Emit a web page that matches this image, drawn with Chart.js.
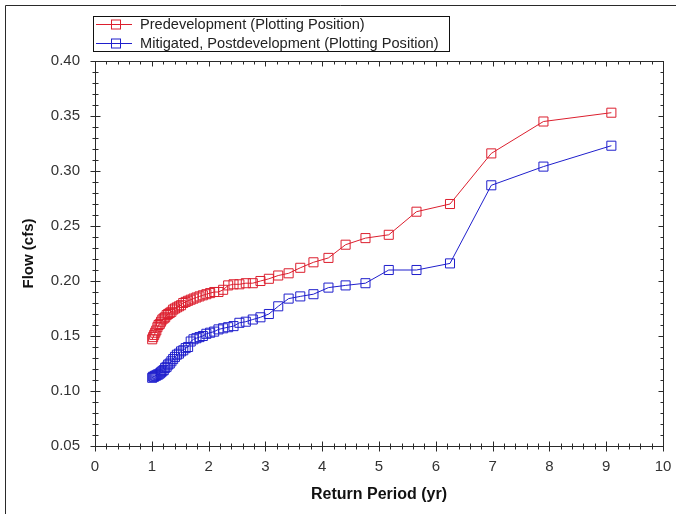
<!DOCTYPE html>
<html><head><meta charset="utf-8">
<script src="https://cdn.jsdelivr.net/npm/chart.js@4"></script>
<style>html,body{margin:0;padding:0;background:#fff;}canvas{display:block;}</style>
</head><body>
<canvas id="c" width="676" height="514"></canvas>
<script>
// Return period (yr) of each plotted point (rank order, highest flow first)
const returnPeriods = [9.091, 7.895, 6.977, 6.250, 5.660, 5.172, 4.762, 4.412, 4.110, 3.846,
  3.614, 3.409, 3.226, 3.061, 2.913, 2.778, 2.655, 2.542, 2.439, 2.344,
  2.256, 2.174, 2.098, 2.027, 1.961, 1.899, 1.840, 1.786, 1.734, 1.685,
  1.639, 1.596, 1.554, 1.515, 1.478, 1.442, 1.408, 1.376, 1.345, 1.316,
  1.288, 1.261, 1.235, 1.210, 1.186, 1.163, 1.141, 1.119, 1.099, 1.079,
  1.060, 1.042, 1.024, 1.007];
const predevFlow = [0.353, 0.345, 0.316, 0.270, 0.263, 0.242, 0.239, 0.233, 0.221, 0.217,
  0.212, 0.207, 0.205, 0.202, 0.200, 0.198, 0.198, 0.197, 0.197, 0.196,
  0.192, 0.190, 0.190, 0.189, 0.188, 0.187, 0.186, 0.185, 0.184, 0.183,
  0.182, 0.181, 0.180, 0.178, 0.177, 0.176, 0.175, 0.174, 0.172, 0.171,
  0.170, 0.169, 0.167, 0.166, 0.165, 0.163, 0.161, 0.160, 0.158, 0.155,
  0.153, 0.151, 0.149, 0.147];
const mitigatedFlow = [0.323, 0.304, 0.287, 0.216, 0.210, 0.210, 0.198, 0.196, 0.194, 0.188,
  0.186, 0.184, 0.177, 0.170, 0.167, 0.165, 0.163, 0.162, 0.159, 0.158,
  0.157, 0.156, 0.154, 0.153, 0.152, 0.150, 0.149, 0.148, 0.147, 0.145,
  0.140, 0.139, 0.137, 0.136, 0.134, 0.133, 0.131, 0.129, 0.127, 0.125,
  0.124, 0.122, 0.121, 0.119, 0.118, 0.117, 0.116, 0.115, 0.115, 0.114,
  0.114, 0.113, 0.113, 0.112];
const seriesLabels = ['Predevelopment (Plotting Position)', 'Mitigated, Postdevelopment (Plotting Position)'];
const seriesColors = ['#dc1f2e', '#1f1fcc'];
const xAxisTitle = 'Return Period (yr)';
const yAxisTitle = 'Flow (cfs)';
const xRange = [0, 10];
const yRange = [0.05, 0.40];

const toPoints = (ys) => returnPeriods.map((x, i) => ({x, y: ys[i]}));

const AXIS_COLOR = '#2a2a2a';
const FONT = '"Liberation Sans", Arial, sans-serif';
const frameTicks = {
  id: 'frameTicks',
  afterDraw(chart) {
    const {ctx, chartArea: a, scales: {x, y}} = chart;
    ctx.save();
    ctx.strokeStyle = AXIS_COLOR;
    ctx.lineWidth = 1;
    // outer picture border (top/left)
    ctx.beginPath();
    ctx.moveTo(5.5, 514); ctx.lineTo(5.5, 5.5); ctx.lineTo(676, 5.5);
    ctx.stroke();
    // plot frame
    const L = Math.round(a.left) + 0.5, R = Math.round(a.right) + 0.5;
    const T = Math.round(a.top) + 0.5, B = Math.round(a.bottom) + 0.5;
    ctx.strokeRect(L, T, R - L, B - T);
    ctx.beginPath();
    // x ticks (major every 1, minor every 0.2)
    for (let k = 0; k <= 50; k++) {
      const v = xRange[0] + k * 0.2;
      const px = Math.round(x.getPixelForValue(v)) + 0.5;
      const major = k % 5 === 0;
      const len = major ? 5 : 3;
      ctx.moveTo(px, B - len); ctx.lineTo(px, B + len);
      ctx.moveTo(px, T); ctx.lineTo(px, T + len);
    }
    // y ticks (major every 0.05, minor every 0.01)
    for (let k = 0; k <= 35; k++) {
      const v = yRange[0] + k * 0.01;
      const py = Math.round(y.getPixelForValue(v)) + 0.5;
      const major = k % 5 === 0;
      const len = major ? 5 : 3;
      ctx.moveTo(L - len, py); ctx.lineTo(L + len, py);
      ctx.moveTo(R, py); ctx.lineTo(R - len, py);
    }
    ctx.stroke();
    // legend box
    const bx = 93.5, by = 16.5, bw = 356, bh = 35;
    ctx.fillStyle = '#fff';
    ctx.fillRect(bx, by, bw, bh);
    ctx.strokeStyle = '#111';
    ctx.strokeRect(bx, by, bw, bh);
    ctx.font = '14.6px ' + FONT;
    ctx.textBaseline = 'middle';
    ctx.textAlign = 'left';
    chart.data.datasets.forEach((ds, i) => {
      const ry = i === 0 ? 24.5 : 43.5;
      ctx.strokeStyle = ds.borderColor;
      ctx.beginPath(); ctx.moveTo(96, ry); ctx.lineTo(132, ry); ctx.stroke();
      ctx.strokeRect(111.5, ry - 4.5, 9, 9);
      ctx.fillStyle = '#222';
      ctx.fillText(ds.label, 140, ry + 0.5);
    });
    ctx.restore();
  }
};

new Chart(document.getElementById('c'), {
  type: 'line',
  data: {
    datasets: [
      {label: seriesLabels[0], data: toPoints(predevFlow), borderColor: seriesColors[0],
       pointBorderColor: seriesColors[0], backgroundColor: 'rgba(0,0,0,0)', pointBackgroundColor: 'rgba(0,0,0,0)'},
      {label: seriesLabels[1], data: toPoints(mitigatedFlow), borderColor: seriesColors[1],
       pointBorderColor: seriesColors[1], backgroundColor: 'rgba(0,0,0,0)', pointBackgroundColor: 'rgba(0,0,0,0)'}
    ]
  },
  options: {
    responsive: false,
    animation: false,
    devicePixelRatio: 1,
    layout: {padding: {top: 61, right: 13, bottom: 0, left: 0}},
    elements: {
      line: {borderWidth: 1, tension: 0, fill: false},
      point: {pointStyle: 'rect', radius: 6.4, borderWidth: 1, hoverRadius: 6.4}
    },
    plugins: {legend: {display: false}, tooltip: {enabled: false}, title: {display: false}},
    scales: {
      x: {
        type: 'linear', min: xRange[0], max: xRange[1],
        grid: {display: false, drawTicks: false},
        border: {display: false},
        ticks: {stepSize: 1, padding: 12, color: '#333', font: {family: FONT, size: 15}},
        title: {display: true, text: xAxisTitle, color: '#111', padding: {top: 0, bottom: 10},
                font: {family: FONT, size: 16, weight: 'bold'}},
        afterFit(s) { s.height = 68; s.paddingLeft = 0; s.paddingRight = 0; }
      },
      y: {
        type: 'linear', min: yRange[0], max: yRange[1],
        grid: {display: false, drawTicks: false},
        border: {display: false},
        ticks: {stepSize: 0.05, padding: 15, color: '#333',
                font: {family: FONT, size: 15},
                callback: (v) => v.toFixed(2)},
        title: {display: true, text: yAxisTitle, color: '#111', padding: {top: 20, bottom: 0},
                font: {family: FONT, size: 15, weight: 'bold'}},
        afterFit(s) { s.width = 95; }
      }
    }
  },
  plugins: [frameTicks]
});
</script>
</body></html>
